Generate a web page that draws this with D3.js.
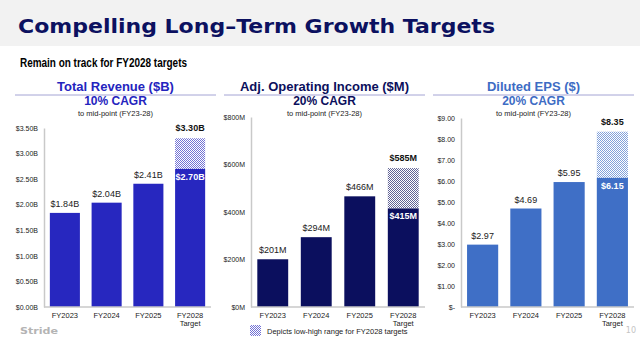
<!DOCTYPE html>
<html>
<head>
<meta charset="utf-8">
<script src="https://cdn.jsdelivr.net/npm/d3@7"></script>
<style>
  body { margin: 0; background: #fff; }
  svg { display: block; font-family: "Liberation Sans", Arial, sans-serif; }
</style>
</head>
<body>
<div id="chart"></div>
<script>
// fiscal years and target values
var years = ["FY2023", "FY2024", "FY2025", "FY2028"];

var revenue = [1.84, 2.04, 2.41, 2.70];
var revenueHigh = 3.30;
var revenueTicks = [0, 0.5, 1, 1.5, 2, 2.5, 3, 3.5];

var opIncome = [201, 294, 466, 415];
var opIncomeHigh = 585;
var opIncomeTicks = [0, 200, 400, 600, 800];

var eps = [2.97, 4.69, 5.95, 6.15];
var epsHigh = 8.35;
var epsTicks = [0, 1, 2, 3, 4, 5, 6, 7, 8, 9];

var width = 640, height = 341;

var svg = d3.select("#chart").append("svg")
  .attr("width", width)
  .attr("height", height);

var defs = svg.append("defs");

// header band
svg.append("rect")
  .attr("x", 0).attr("y", 0)
  .attr("width", width).attr("height", 46)
  .attr("fill", "#f2f2f2");

svg.append("text")
  .attr("x", 18).attr("y", 33)
  .attr("textLength", 477)
  .attr("lengthAdjust", "spacingAndGlyphs")
  .style("font-family", "'DejaVu Sans', sans-serif")
  .style("font-weight", "bold")
  .style("font-size", "19px")
  .attr("fill", "#0c1160")
  .text("Compelling Long\u2013Term Growth Targets");

svg.append("text")
  .attr("x", 20).attr("y", 67)
  .attr("textLength", 167)
  .attr("lengthAdjust", "spacingAndGlyphs")
  .style("font-weight", "bold")
  .style("font-size", "13px")
  .attr("fill", "#000")
  .text("Remain on track for FY2028 targets");

var panels = [
  {
    id: "rev", title: "Total Revenue ($B)", cagr: "10% CAGR",
    color: "#2727bf", titleColor: "#2424be",
    values: revenue, high: revenueHigh, ticks: revenueTicks,
    domain: [0, 3.5], x0: 44, x1: 211, line: [15, 216], pad: 0.28,
    fmt: function(v){ return "$" + v.toFixed(2) + "B"; },
    tick: function(v){ return "$" + v.toFixed(2) + "B"; }
  },
  {
    id: "aoi", title: "Adj. Operating Income ($M)", cagr: "20% CAGR",
    color: "#0b0f5e", titleColor: "#0b0f5c",
    values: opIncome, high: opIncomeHigh, ticks: opIncomeTicks,
    domain: [0, 800], x0: 251, x1: 425, line: [224, 425], pad: 0.29,
    fmt: function(v){ return "$" + v + "M"; },
    tick: function(v){ return "$" + v + "M"; }
  },
  {
    id: "eps", title: "Diluted EPS ($)", cagr: "20% CAGR",
    color: "#3f6fc6", titleColor: "#3d6cc4",
    values: eps, high: epsHigh, ticks: epsTicks,
    domain: [0, 9], x0: 461, x1: 634, line: [433, 634], pad: 0.28,
    fmt: function(v){ return "$" + v.toFixed(2); },
    tick: function(v){ return v === 0 ? "$-" : "$" + v.toFixed(2); }
  }
];

var yBottom = 307;
var yTops = { rev: 128, aoi: 117, eps: 118 };

// checkerboard fill for the low-high range
function addPattern(id, color) {
  var p = defs.append("pattern")
    .attr("id", "hatch-" + id)
    .attr("patternUnits", "userSpaceOnUse")
    .attr("width", 2).attr("height", 2);
  p.append("rect").attr("width", 2).attr("height", 2).attr("fill", "#fff");
  p.append("rect").attr("width", 1).attr("height", 1).attr("fill", color).attr("opacity", 0.65);
  p.append("rect").attr("x", 1).attr("y", 1).attr("width", 1).attr("height", 1).attr("fill", color).attr("opacity", 0.65);
}

panels.forEach(function(pn) {
  addPattern(pn.id, pn.color);

  var cx = (pn.line[0] + pn.line[1]) / 2;
  var g = svg.append("g");

  g.append("text")
    .attr("x", cx).attr("y", 91)
    .attr("text-anchor", "middle")
    .style("font-weight", "bold").style("font-size", "13px")
    .attr("fill", pn.titleColor)
    .text(pn.title);

  g.append("line")
    .attr("x1", pn.line[0]).attr("x2", pn.line[1])
    .attr("y1", 95).attr("y2", 95)
    .attr("stroke", "#a4a4d4").attr("stroke-width", 1);

  g.append("text")
    .attr("x", cx).attr("y", 105)
    .attr("text-anchor", "middle")
    .style("font-weight", "bold").style("font-size", "12px")
    .attr("fill", pn.titleColor)
    .text(pn.cagr);

  g.append("text")
    .attr("x", cx).attr("y", 116)
    .attr("text-anchor", "middle")
    .style("font-size", "7.5px")
    .attr("fill", "#222")
    .text("to mid-point (FY23-28)");

  var x = d3.scaleBand()
    .domain(years)
    .range([pn.x0, pn.x1])
    .paddingInner(pn.pad)
    .paddingOuter(pn.pad / 2);

  var y = d3.scaleLinear()
    .domain(pn.domain)
    .range([yBottom, yTops[pn.id]]);

  // y axis: line and labels only
  var yAxis = g.append("g")
    .attr("transform", "translate(" + pn.x0 + ",0)")
    .call(d3.axisLeft(y).tickValues(pn.ticks).tickFormat(pn.tick).tickSize(0).tickPadding(6));
  yAxis.select(".domain").attr("stroke", "#c9c9c9").attr("stroke-width", 1.5);
  yAxis.selectAll("text")
    .style("font-size", "7px")
    .style("font-family", "'Liberation Sans', Arial, sans-serif")
    .attr("fill", "#222");

  // low-high range on the target bar
  var last = years[years.length - 1];
  g.append("rect")
    .attr("x", x(last))
    .attr("y", y(pn.high))
    .attr("width", x.bandwidth())
    .attr("height", y(pn.values[3]) - y(pn.high))
    .attr("fill", "url(#hatch-" + pn.id + ")");

  g.selectAll(".bar")
    .data(pn.values)
    .enter().append("rect")
    .attr("class", "bar")
    .attr("x", function(d, i){ return x(years[i]); })
    .attr("y", function(d){ return y(d); })
    .attr("width", x.bandwidth())
    .attr("height", function(d){ return yBottom - y(d); })
    .attr("fill", pn.color);

  // value labels
  g.selectAll(".val")
    .data(pn.values)
    .enter().append("text")
    .attr("class", "val")
    .attr("x", function(d, i){ return x(years[i]) + x.bandwidth() / 2; })
    .attr("y", function(d, i){ return i === 3 ? y(d) + 11 : y(d) - 6; })
    .attr("text-anchor", "middle")
    .style("font-size", "9px")
    .style("font-weight", function(d, i){ return i === 3 ? "bold" : "normal"; })
    .attr("fill", function(d, i){ return i === 3 ? "#fff" : "#222"; })
    .text(pn.fmt);

  g.append("text")
    .attr("x", x(last) + x.bandwidth() / 2)
    .attr("y", y(pn.high) - 7)
    .attr("text-anchor", "middle")
    .style("font-size", "9px").style("font-weight", "bold")
    .attr("fill", "#111")
    .text(pn.fmt(pn.high));

  // x axis
  g.append("line")
    .attr("x1", pn.x0).attr("x2", pn.x1)
    .attr("y1", yBottom).attr("y2", yBottom)
    .attr("stroke", "#c9c9c9").attr("stroke-width", 1.5);

  g.selectAll(".xl")
    .data(years)
    .enter().append("text")
    .attr("class", "xl")
    .attr("x", function(d){ return x(d) + x.bandwidth() / 2; })
    .attr("y", 318)
    .attr("text-anchor", "middle")
    .style("font-size", "7.5px")
    .attr("fill", "#222")
    .text(function(d){ return d; });

  g.append("text")
    .attr("x", x(last) + x.bandwidth() / 2)
    .attr("y", 326)
    .attr("text-anchor", "middle")
    .style("font-size", "7.5px")
    .attr("fill", "#222")
    .text("Target");
});

// legend
svg.append("rect")
  .attr("x", 250).attr("y", 325)
  .attr("width", 11).attr("height", 11)
  .attr("fill", "url(#hatch-rev)");

svg.append("text")
  .attr("x", 267).attr("y", 333.5)
  .style("font-size", "7.5px")
  .attr("fill", "#222")
  .text("Depicts low-high range for FY2028 targets");

// footer
svg.append("text")
  .attr("x", 20).attr("y", 334)
  .attr("textLength", 38)
  .attr("lengthAdjust", "spacingAndGlyphs")
  .style("font-family", "'DejaVu Sans', sans-serif")
  .style("font-weight", "bold").style("font-size", "9px")
  .attr("fill", "#b4b4b4")
  .text("Stride");

svg.append("text")
  .attr("x", 636).attr("y", 333)
  .attr("text-anchor", "end")
  .style("font-family", "'DejaVu Sans', sans-serif")
  .style("font-size", "8px")
  .attr("fill", "#c4c4c4")
  .text("10");
</script>
</body>
</html>
